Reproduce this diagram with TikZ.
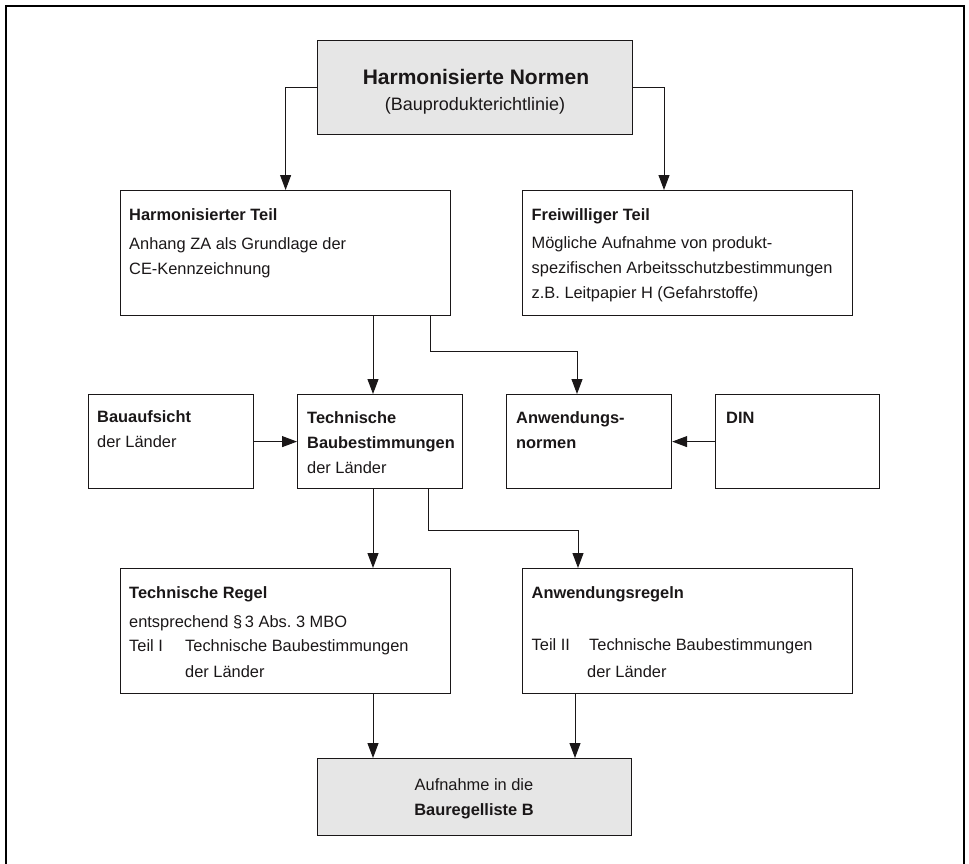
\documentclass[tikz,border=0pt]{standalone}
\usepackage{fontspec}
\setmainfont{Liberation Sans}
\usetikzlibrary{arrows.meta}
\definecolor{ink}{HTML}{1A1718}
\definecolor{panel}{HTML}{E6E6E6}
\frenchspacing
\begin{document}
\begin{tikzpicture}[x=1pt,y=-1pt,
  box/.style={draw=ink, line width=1.2pt, inner sep=0pt, anchor=north west},
  shaded/.style={box, fill=panel},
  txt/.style={anchor=base west, inner sep=0pt, text=ink, font=\fontsize{16.4}{19}\selectfont},
  hd/.style={txt, font=\fontsize{16.4}{19}\selectfont\bfseries},
  ctr/.style={anchor=base, inner sep=0pt, text=ink},
  arr/.style={draw=ink, line width=1pt, -{Triangle[length=15pt,width=11pt]}},
  frame/.style={draw=black, line width=2.2pt}]
\useasboundingbox (0,0) rectangle (969,864);

% outer frame, open at the bottom
\draw[frame] (6,864) -- (6,6) -- (964,6) -- (964,864);

% boxes
\node[shaded, minimum width=315pt, minimum height=94pt]  (hn) at (317,40) {};
\node[box, minimum width=330pt, minimum height=125pt]    (ht) at (120,190) {};
\node[box, minimum width=330pt, minimum height=125pt]    (fw) at (522,190) {};
\node[box, minimum width=165pt, minimum height=94pt]     (ba) at (88,394) {};
\node[box, minimum width=165pt, minimum height=94pt]     (tb) at (297,394) {};
\node[box, minimum width=165pt, minimum height=94pt]     (an) at (506,394) {};
\node[box, minimum width=164pt, minimum height=94pt]     (din) at (715,394) {};
\node[box, minimum width=330pt, minimum height=125pt]    (tr) at (120,568) {};
\node[box, minimum width=330pt, minimum height=125pt]    (ar) at (522,568) {};
\node[shaded, minimum width=314pt, minimum height=77pt]  (bb) at (317,758) {};

% texts
\node[ctr, font=\fontsize{21}{25}\selectfont\bfseries] (hn1) at (476,85) {Harmonisierte Normen};
\node[ctr, font=\fontsize{18}{21}\selectfont] (hn2) at (475,111) {(Bauprodukterichtlinie)};

\node[hd]  (ht1) at (129,220.5) {Harmonisierter Teil};
\node[txt] (ht2) at (129,249) {Anhang ZA als Grundlage der};
\node[txt] (ht3) at (129,274) {CE-Kennzeichnung};

\node[hd]  (fw1) at (531.5,220.5) {Freiwilliger Teil};
\node[txt] (fw2) at (531.5,248) {Mögliche Aufnahme von produkt-};
\node[txt] (fw3) at (531.5,273) {spezifischen Arbeitsschutzbestimmungen};
\node[txt] (fw4) at (531.5,298) {z.B. Leitpapier H (Gefahrstoffe)};

\node[hd]  (ba1) at (97,422) {Bauaufsicht};
\node[txt] (ba2) at (97,447) {der Länder};

\node[hd]  (tb1) at (307,423) {Technische};
\node[hd]  (tb2) at (307,448) {Baubestimmungen};
\node[txt] (tb3) at (307,473) {der Länder};

\node[hd]  (an1) at (516,423) {Anwendungs-};
\node[hd]  (an2) at (516,448) {normen};

\node[hd]  (din1) at (726,423) {DIN};

\node[hd]  (tr1) at (129,598) {Technische Regel};
\node[txt] (tr2) at (129,627) {entsprechend §\,3 Abs. 3 MBO};
\node[txt] (tr3) at (129,651) {Teil I};
\node[txt] (tr4) at (185,651) {Technische Baubestimmungen};
\node[txt] (tr5) at (185,677) {der Länder};

\node[hd]  (ar1) at (531.5,598) {Anwendungsregeln};
\node[txt] (ar2) at (531.5,650) {Teil II};
\node[txt] (ar3) at (589,650) {Technische Baubestimmungen};
\node[txt] (ar4) at (587,677) {der Länder};

\node[ctr, font=\fontsize{16.4}{19}\selectfont] (bb1) at (474,790) {Aufnahme in die};
\node[ctr, font=\fontsize{16.4}{19}\selectfont\bfseries] (bb2) at (474,815.5) {Bauregelliste B};

% connector columns
\coordinate (xfw) at (664,0);
\coordinate (xl)  at (373,0);
\coordinate (xa)  at (430,0);
\coordinate (xb)  at (577,0);
\coordinate (xc)  at (428,0);
\coordinate (xd)  at (578,0);
\coordinate (xe)  at (575,0);

% connectors
\draw[arr] (hn.west) -| (ht.north);
\draw[arr] (hn.east) -| (fw.north -| xfw);
\draw[arr] (ht.south -| xl) -- (tb.north -| xl);
\draw[arr] (ht.south -| xa) -- ++(0,35) -| (an.north -| xb);
\draw[arr] (ba.east) -- (tb.west);
\draw[arr] (din.west) -- (an.east);
\draw[arr] (tb.south -| xl) -- (tr.north -| xl);
\draw[arr] (tb.south -| xc) -- ++(0,41) -| (ar.north -| xd);
\draw[arr] (tr.south -| xl) -- (bb.north -| xl);
\draw[arr] (ar.south -| xe) -- (bb.north -| xe);
\end{tikzpicture}
\end{document}
